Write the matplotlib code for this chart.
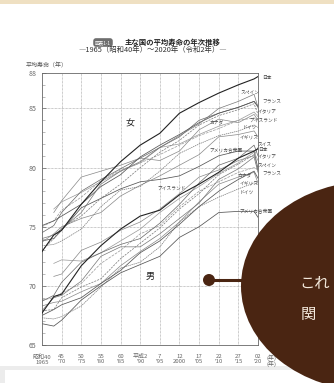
import numpy as np
import matplotlib.pyplot as plt
from matplotlib.patches import Ellipse, Circle, Rectangle

plt.rcParams['font.family'] = ['Noto Sans CJK JP', 'DejaVu Sans']

nan = np.nan
years = [1965, 1968, 1970, 1975, 1980, 1985, 1990, 1995, 2000, 2005, 2010, 2015, 2019, 2020]

# female life expectancy
jpn_f = [72.9, 74.3, 74.7, 76.9, 78.8, 80.5, 81.9, 82.9, 84.6, 85.5, 86.3, 87.0, 87.5, 87.7]
esp_f = [74.0, 74.3, 74.8, 76.2, 78.6, 79.7, 80.5, 81.7, 82.7, 83.7, 85.0, 85.6, 86.2, 85.1]
fra_f = [75.1, 75.5, 75.9, 76.9, 78.4, 79.4, 80.9, 81.9, 82.8, 83.8, 84.6, 85.1, 85.6, 85.2]
ita_f = [73.0, 74.0, 74.9, 75.9, 77.4, 78.6, 80.0, 81.3, 82.3, 83.6, 84.4, 84.9, 85.4, 84.5]
che_f = [74.5, 75.1, 76.2, 78.0, 79.0, 79.9, 80.8, 81.7, 82.6, 84.0, 84.6, 85.1, 85.6, 85.1]
isl_f = [nan, 76.2, 77.2, 79.2, 79.7, 80.2, 80.8, 80.6, 81.4, 83.2, 84.1, 83.8, 84.5, 84.0]
deu_f = [73.4, 73.5, 73.8, 74.8, 76.7, 78.1, 78.4, 79.7, 81.2, 82.0, 82.7, 83.1, 83.6, 83.4]
gbr_f = [73.7, 74.4, 75.0, 75.7, 76.2, 77.6, 78.5, 79.3, 80.2, 81.1, 82.6, 82.8, 83.1, 82.6]
usa_f = [73.8, 74.0, 74.7, 76.6, 77.4, 78.2, 78.8, 79.0, 79.3, 80.1, 81.0, 81.4, 81.4, 79.9]
can_f = [75.0, 75.5, 76.4, 77.5, 78.9, 79.8, 80.4, 81.1, 81.9, 82.7, 83.3, 84.0, 84.2, 84.1]
swe_f = [nan, 76.5, 77.1, 77.9, 78.8, 79.7, 80.4, 81.7, 82.0, 82.8, 83.5, 84.0, 84.7, 84.3]

# male life expectancy
jpn_m = [67.7, 69.1, 69.3, 71.7, 73.4, 74.8, 75.9, 76.4, 77.7, 78.6, 79.6, 80.8, 81.4, 81.6]
che_m = [68.7, 69.2, 70.3, 72.0, 72.8, 73.5, 74.0, 75.3, 76.9, 78.7, 80.2, 80.8, 81.9, 81.0]
ita_m = [67.9, 68.0, 69.0, 69.9, 70.6, 72.3, 73.6, 74.9, 76.5, 77.8, 79.4, 80.3, 81.1, 79.7]
esp_m = [67.9, 69.0, 69.2, 70.4, 72.5, 73.3, 73.3, 74.4, 75.7, 77.0, 79.0, 79.9, 80.9, 79.6]
fra_m = [67.5, 68.0, 68.4, 69.0, 70.2, 71.3, 72.8, 73.8, 75.2, 76.7, 78.0, 79.0, 79.7, 79.1]
gbr_m = [68.3, 68.6, 68.7, 69.5, 70.2, 71.7, 72.9, 74.0, 75.4, 77.1, 78.6, 79.2, 79.6, 78.7]
deu_m = [67.3, 67.2, 67.4, 68.3, 69.9, 71.5, 72.0, 73.3, 75.4, 76.7, 77.5, 78.2, 78.7, 78.6]
isl_m = [nan, 70.8, 71.0, 73.0, 73.7, 74.7, 75.4, 76.5, 77.8, 79.2, 79.8, 80.6, 81.0, 81.7]
usa_m = [66.8, 66.6, 67.1, 68.8, 70.0, 71.1, 71.8, 72.5, 74.1, 75.0, 76.2, 76.3, 76.3, 75.8]
can_m = [68.8, 69.0, 69.4, 70.2, 71.9, 73.0, 74.4, 75.1, 76.7, 78.0, 78.8, 79.6, 80.0, 79.8]
swe_m = [nan, 71.9, 72.2, 72.1, 72.8, 73.8, 74.8, 76.2, 77.4, 78.4, 79.5, 80.4, 81.3, 80.6]

tick_years = [1965, 1970, 1975, 1980, 1985, 1990, 1995, 2000, 2005, 2010, 2015, 2020]
era_labels = ['昭和40', '45', '50', '55', '60', '平成2', '7', '12', '17', '22', '27', '02']
west_labels = ['1965', "'70", "'75", "'80", "'85", "'90", "'95", '2000', "'05", "'10", "'15", "'20"]

STYLES = {
    '日本': ('#222222', 0.8, '-'),
    'スペイン': ('#777777', 0.5, '-'),
    'フランス': ('#555555', 0.55, '-'),
    'イタリア': ('#777777', 0.5, (0, (3, 1.5))),
    'スイス': ('#666666', 0.5, '-'),
    'アイスランド': ('#888888', 0.5, '-'),
    'ドイツ': ('#777777', 0.5, (0, (2, 1))),
    'イギリス': ('#888888', 0.5, '-'),
    'アメリカ合衆国': ('#555555', 0.55, '-'),
    'カナダ': ('#999999', 0.5, (0, (4, 1.5))),
    'スウェーデン': ('#999999', 0.5, '-'),
}

female = [('日本', jpn_f), ('スペイン', esp_f), ('フランス', fra_f), ('イタリア', ita_f),
          ('スイス', che_f), ('アイスランド', isl_f), ('ドイツ', deu_f), ('イギリス', gbr_f),
          ('アメリカ合衆国', usa_f), ('カナダ', can_f), ('スウェーデン', swe_f)]
male = [('日本', jpn_m), ('スイス', che_m), ('イタリア', ita_m), ('スペイン', esp_m),
        ('フランス', fra_m), ('イギリス', gbr_m), ('ドイツ', deu_m), ('アイスランド', isl_m),
        ('アメリカ合衆国', usa_m), ('カナダ', can_m), ('スウェーデン', swe_m)]

fig = plt.figure(figsize=(3.34, 3.83), dpi=100)
ax = fig.add_axes([42 / 334, 1 - 345 / 383, 216 / 334, 272 / 383])

for name, vals in female[::-1] + male[::-1]:
    color, lw, ls = STYLES[name]
    ax.plot(years, vals, color=color, lw=lw, ls=ls, zorder=3 if name == '日本' else 2)

ax.set_xlim(1965, 2020)
ax.set_ylim(65, 88)
ax.set_xticks(tick_years)
ax.set_xticklabels(['{}\n{}'.format(e, w) for e, w in zip(era_labels, west_labels)],
                   fontsize=4.3, color='#666666', linespacing=1.05)
ax.set_yticks([65, 70, 75, 80, 85, 88])
ax.set_yticks(np.arange(65, 88), minor=True)
ax.tick_params(axis='x', length=0, pad=6.5)
ax.tick_params(axis='y', which='major', direction='in', length=3, width=0.5,
               labelsize=5, labelcolor='#666666', colors='#666666', pad=4)
ax.tick_params(axis='y', which='minor', direction='in', length=1.8, width=0.4, colors='#888888')
for y in [70, 75, 80, 85]:
    ax.axhline(y, color='#999999', lw=0.5, ls=(0, (1, 1)), zorder=1)
for x in tick_years[1:-1]:
    ax.axvline(x, color='#999999', lw=0.5, ls=(0, (1, 1)), zorder=1)
for s in ax.spines.values():
    s.set_color('#666666')
    s.set_linewidth(0.6)

lab = dict(fontsize=3.4, color='#444444', va='center', clip_on=False)
# right-side labels (female)
ax.text(2021, 87.6, '日本', **lab)
ax.text(2015.6, 86.4, 'スペイン', **lab)
ax.text(2021, 85.5, 'フランス', **lab)
ax.text(2020, 84.7, 'イタリア', **lab)
ax.text(2017.8, 83.9, 'アイスランド', **lab)
ax.text(2016, 83.4, 'ドイツ', **lab)
ax.text(2015.3, 82.6, 'イギリス', **lab)
ax.text(2007.7, 83.9, 'カナダ', **lab)
ax.text(2007.6, 81.4, 'アメリカ合衆国', **lab)
# right-side labels (male)
ax.text(2020, 82.0, 'スイス', **lab)
ax.text(2020, 81.5, '日本', **lab)
ax.text(2020, 80.9, 'イタリア', **lab)
ax.text(2020, 80.2, 'スペイン', **lab)
ax.text(2021, 79.4, 'フランス', **lab)
ax.text(2014.8, 79.4, 'カナダ', **lab)
ax.text(2015.3, 78.7, 'イギリス', **lab)
ax.text(2015.3, 77.9, 'ドイツ', **lab)
ax.text(2015.3, 76.3, 'アメリカ合衆国', **lab)
ax.text(1994.5, 78.2, 'アイスランド', **lab)

ax.text(1987.4, 83.7, '女', fontsize=6.5, ha='center', va='center', color='#222222')
ax.text(1992.5, 70.8, '男', fontsize=6.5, ha='center', va='center', color='#222222')

# page decorations in pixel coordinates
ov = fig.add_axes([0, 0, 1, 1], zorder=5)
ov.set_xlim(0, 334)
ov.set_ylim(383, 0)
ov.axis('off')
ov.patch.set_visible(False)

ov.add_patch(Rectangle((0, 0), 334, 4, color='#efe0c2', lw=0))
ov.text(103, 42.5, '図表1-1', fontsize=3.3, color='white', ha='center', va='center',
        bbox=dict(boxstyle='round,pad=0.4,rounding_size=0.6', fc='#6e6e6e', ec='none'))
ov.text(125, 42.5, '主な国の平均寿命の年次推移', fontsize=5.3, color='#222222',
        ha='left', va='center', fontweight='bold')
ov.text(153, 50, '―1965（昭和40年）～2020年（令和2年）―', fontsize=5.3, color='#333333',
        ha='center', va='center')
ov.text(26, 65, '平均寿命（年）', fontsize=4.3, color='#555555', ha='left', va='center')
ov.text(266.5, 357.5, '(年)', fontsize=4.3, color='#666666', ha='left', va='center')
ov.text(266.5, 363.5, '(年)', fontsize=4.3, color='#666666', ha='left', va='center')

ov.add_patch(Rectangle((0, 366), 334, 17, color='#ececec', lw=0))
ov.add_patch(Rectangle((5, 369.5), 323, 14, color='white', lw=0))

brown = '#4a2512'
ov.add_patch(Ellipse((372, 286), 262, 210, color=brown, lw=0))
ov.plot([209, 246], [280, 280], color=brown, lw=2.2, solid_capstyle='butt')
ov.add_patch(Circle((209, 280), 6, color=brown, lw=0))
ov.text(299, 283, 'これ', fontsize=11, color='#f3e9dc', ha='left', va='center')
ov.text(301, 314, '関', fontsize=11, color='#f3e9dc', ha='left', va='center')

plt.savefig('out.png', dpi=100)
